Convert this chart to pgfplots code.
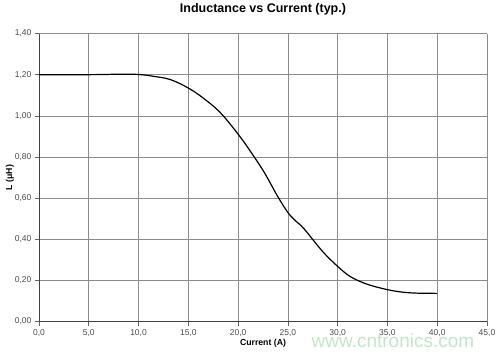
\documentclass[border=0pt]{standalone}
\usepackage{pgfplots}
\pgfplotsset{compat=1.18}
\usepackage{fontspec}
\setmainfont{Liberation Sans}
\begin{document}
\begin{tikzpicture}
\begin{axis}[
  scale only axis, width=448pt, height=288pt,
  xmin=0, xmax=45, ymin=0, ymax=1.4,
  xtick={0,5,...,45}, ytick={0,0.2,...,1.4},
  axis x line*=bottom, axis y line*=left,
  axis line style={black!75, line width=0.6pt},
  tick align=outside, major tick length=4pt,
  tick style={black!60, line width=0.6pt},
  grid=major, major grid style={black!45, line width=0.6pt},
  /pgf/number format/assume math mode=true,
  xticklabel style={/pgf/number format/.cd, use comma, fixed, fixed zerofill, precision=1},
  yticklabel style={/pgf/number format/.cd, use comma, fixed, fixed zerofill, precision=2},
  ticklabel style={font=\fontsize{8.5}{10}\selectfont, text=black!70},
  title={\bfseries Inductance vs Current (typ.)},
  title style={font=\fontsize{12.5}{14}\selectfont, yshift=9pt},
  xlabel={\bfseries Current (A)},
  ylabel={\bfseries L (μH)},
  label style={font=\fontsize{8.7}{10}\selectfont},
  xlabel style={yshift=4pt},
  ylabel style={yshift=-6pt},
  clip=false,
]
\path (axis description cs:-0.087,-0.1215) rectangle (axis description cs:1.029,1.1146);
\addplot[black, line width=1.2pt, smooth, tension=0.6] coordinates {
(0,1.200) (5,1.200) (8,1.202) (10,1.201) (11.5,1.192) (13.2,1.176)
(15,1.135) (16.5,1.086) (18.2,1.016) (20,0.911) (21.2,0.830) (22.5,0.735)
(23.3,0.667) (24,0.606) (25,0.530) (25.8,0.488) (26.6,0.452) (28.5,0.340) (30,0.268) (31.1,0.224)
(32.1,0.198) (33.3,0.176) (35,0.155) (36.5,0.143) (38,0.138) (40,0.137)
};
\node[anchor=center, text=green!50!black!22, font=\fontsize{19}{20}\selectfont] at (axis description cs:0.79,-0.068) {www.cntronics.com};
\end{axis}
\end{tikzpicture}
\end{document}
